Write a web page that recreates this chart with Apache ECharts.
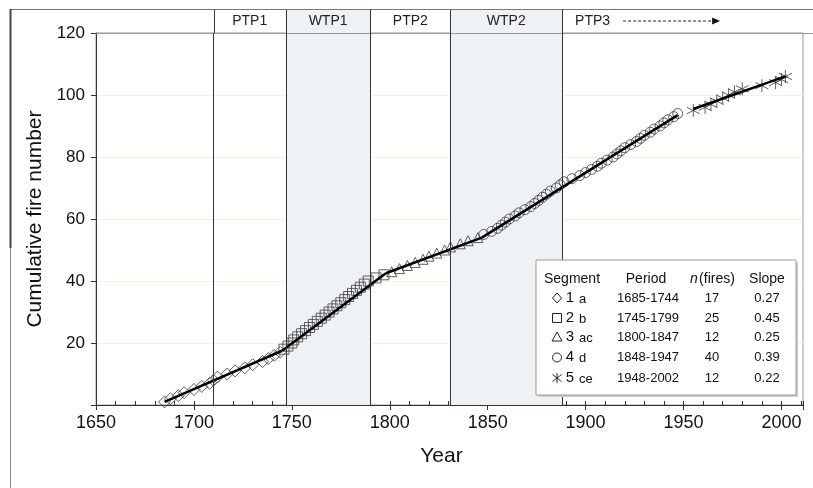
<!DOCTYPE html>
<html>
<head>
<meta charset="utf-8">
<script src="https://cdn.jsdelivr.net/npm/echarts@6/dist/echarts.min.js"></script>
<style>
html, body { margin: 0; padding: 0; background: #fff; }
#chart { width: 813px; height: 488px; }
</style>
</head>
<body>
<div id="chart"></div>
<script>
// fire years, one list per segment
var seg1Years = [1685, 1688, 1692, 1695, 1700, 1704, 1708, 1710, 1712, 1717, 1721, 1726, 1730, 1735, 1738, 1741, 1744];
var seg2Years = [1746, 1748, 1750, 1751, 1753, 1755, 1757, 1759, 1761, 1763, 1765, 1767, 1769, 1771, 1773, 1775, 1777, 1779, 1781, 1783, 1785, 1787, 1789, 1793, 1797];
var seg3Years = [1801, 1805, 1809, 1813, 1817, 1820, 1824, 1828, 1831, 1836, 1840, 1845];
var seg4Years = [1848, 1852, 1855, 1857, 1859, 1861, 1864, 1866, 1869, 1872, 1874, 1876, 1878, 1880, 1882, 1885, 1887, 1889, 1893, 1897,
	1900, 1903, 1906, 1908, 1911, 1914, 1916, 1918, 1920, 1923, 1926, 1928, 1930, 1933, 1935, 1938, 1940, 1942, 1945, 1947];
var seg5Years = [1955, 1961, 1964, 1967, 1970, 1973, 1976, 1980, 1990, 1997, 2000, 2002];

// fitted lines (end points)
var fit1 = [[1685, 1], [1745, 17.5]];
var fit2 = [[1745, 17.5], [1798, 42.5]];
var fit3 = [[1798, 42.5], [1847, 54]];
var fit4 = [[1847, 54], [1947, 93.5]];
var fit5 = [[1955, 95.5], [2002, 106]];

var boundaryYears = [1710, 1747, 1790, 1831, 1888];
var wetPeriods = [[1747, 1790], [1831, 1888]];
var periodNames = ['PTP1', 'WTP1', 'PTP2', 'WTP2'];

var tableSegments = ['1', '2', '3', '4', '5'];
var tableLetters = ['a', 'b', 'ac', 'd', 'ce'];
var tablePeriods = ['1685-1744', '1745-1799', '1800-1847', '1848-1947', '1948-2002'];
var tableFires = ['17', '25', '12', '40', '12'];
var tableSlopes = ['0.27', '0.45', '0.25', '0.39', '0.22'];

var FONT = '"Liberation Sans", Arial, sans-serif';
var starPath = 'path://M5,0L5,10M0.7,2.5L9.3,7.5M0.7,7.5L9.3,2.5';

// cumulative fire number = running count of fires
var count = 0;
var cumulate = function(years){
	var pts = [];
	for( var i = 0; i < years.length; i++ ){
		count++;
		pts.push( [years[i], count] );
	}
	return pts;
};
var seg1 = cumulate( seg1Years );
var seg2 = cumulate( seg2Years );
var seg3 = cumulate( seg3Years );
var seg4 = cumulate( seg4Years );
var seg5 = cumulate( seg5Years );

var scatter = function(data, symbol, size){
	return {
		type: 'scatter', data: data, symbol: symbol, symbolSize: size, z: 3,
		itemStyle: { color: 'rgba(255,255,255,0)', borderColor: '#3a3a3a', borderWidth: 1 }
	};
};
var fitLine = function(data){
	return {
		type: 'line', data: data, symbol: 'none', z: 4,
		lineStyle: { color: '#000', width: 2.5 }
	};
};

var chart = echarts.init( document.getElementById( 'chart' ) );

var option = {
	animation: false,
	grid: { left: 96, right: 10, top: 33, bottom: 83, show: true, borderColor: '#999', borderWidth: 1 },
	xAxis: [
		{
			type: 'value', min: 1650, max: 2011, interval: 50,
			name: 'Year', nameLocation: 'middle', nameGap: 41,
			nameTextStyle: { fontFamily: FONT, fontSize: 21, color: '#111', padding: [0, 16, 0, 0] },
			axisLine: { show: true, lineStyle: { color: '#333' } },
			axisTick: { show: false },
			minorTick: { show: false },
			splitLine: { show: false },
			axisLabel: {
				margin: 9, fontFamily: FONT, fontSize: 18, color: '#111',
				formatter: function(v){ return v % 50 === 0 ? String( v ) : ''; }
			}
		},
		{
			type: 'value', min: 1650, max: 2011, interval: 10, position: 'bottom',
			axisLine: { show: false },
			axisTick: { show: true, inside: true, length: 4, lineStyle: { color: '#333' } },
			axisLabel: { show: false },
			splitLine: { show: false }
		},
		{
			type: 'value', min: 1650, max: 2011, interval: 50, position: 'bottom',
			axisLine: { show: false },
			axisTick: { show: true, length: 5, lineStyle: { color: '#333' } },
			axisLabel: { show: false },
			splitLine: { show: false }
		}
	],
	yAxis: {
		type: 'value', min: 0, max: 120, interval: 20,
		name: 'Cumulative fire number', nameLocation: 'middle', nameGap: 43, nameRotate: 90,
		nameTextStyle: { fontFamily: FONT, fontSize: 21, color: '#111' },
		axisLine: { show: true, lineStyle: { color: '#333' } },
		axisTick: { show: true, length: 5, lineStyle: { color: '#333' } },
		splitLine: { show: true, lineStyle: { color: '#f3f3d8', width: 1 } },
		axisLabel: {
			margin: 11, fontFamily: FONT, fontSize: 17, color: '#111',
			formatter: function(v){ return v === 0 ? '' : String( v ); }
		}
	},
	series: [
		{
			type: 'line', data: [], z: 1,
			markArea: {
				silent: true,
				itemStyle: { color: '#eef2f5' },
				data: wetPeriods.map( function(p){ return [{ xAxis: p[0] }, { xAxis: p[1] }]; } )
			},
			markLine: {
				silent: true, symbol: 'none', label: { show: false },
				lineStyle: { color: '#333', width: 1, type: 'solid' },
				data: boundaryYears.map( function(y){ return { xAxis: y }; } )
			}
		},
		scatter( seg1, 'diamond', 12 ),
		scatter( seg2, 'rect', 10 ),
		scatter( seg3, 'triangle', 10 ),
		scatter( seg4, 'circle', 10 ),
		scatter( seg5, starPath, 13 ),
		fitLine( fit1 ),
		fitLine( fit2 ),
		fitLine( fit3 ),
		fitLine( fit4 ),
		fitLine( fit5 )
	]
};
chart.setOption( option );

// header row and table, placed with the axis scale
var px = function(year){ return chart.convertToPixel( { xAxisIndex: 0 }, year ); };
var topY = chart.convertToPixel( { yAxisIndex: 0 }, 120 );
var headTop = 9;
var headMid = (headTop + topY) / 2;
var g = [];

wetPeriods.forEach( function(p){
	g.push( { type: 'rect', shape: { x: px( p[0] ), y: headTop, width: px( p[1] ) - px( p[0] ), height: topY - headTop },
		style: { fill: '#eef2f5' }, z: 1 } );
} );
boundaryYears.forEach( function(y){
	var x = Math.round( px( y ) ) + 0.5;
	g.push( { type: 'line', shape: { x1: x, y1: headTop, x2: x, y2: topY }, style: { stroke: '#333', lineWidth: 1 }, z: 2 } );
} );
for( var i = 0; i < periodNames.length; i++ ){
	g.push( { type: 'text', x: (px( boundaryYears[i] ) + px( boundaryYears[i + 1] )) / 2, y: headMid,
		style: { text: periodNames[i], font: '14px ' + FONT, fill: '#222', align: 'center', verticalAlign: 'middle' }, z: 3 } );
}
var p3x = px( boundaryYears[4] ) + 13;
g.push( { type: 'text', x: p3x, y: headMid,
	style: { text: 'PTP3', font: '14px ' + FONT, fill: '#222', align: 'left', verticalAlign: 'middle' }, z: 3 } );
g.push( { type: 'line', shape: { x1: p3x + 48, y1: headMid, x2: p3x + 138, y2: headMid },
	style: { stroke: '#222', lineWidth: 1, lineDash: [3, 2] }, z: 3 } );
g.push( { type: 'polygon', shape: { points: [[p3x + 137, headMid - 3.5], [p3x + 145, headMid], [p3x + 137, headMid + 3.5]] },
	style: { fill: '#111' }, z: 3 } );

// outer frame pieces
g.push( { type: 'line', shape: { x1: 10, y1: headTop + 0.5, x2: 813, y2: headTop + 0.5 }, style: { stroke: '#777', lineWidth: 1 }, z: 2 } );
g.push( { type: 'line', shape: { x1: 10.5, y1: headTop, x2: 10.5, y2: 488 }, style: { stroke: '#888', lineWidth: 1 }, z: 2 } );
g.push( { type: 'line', shape: { x1: 10.5, y1: headTop, x2: 10.5, y2: 248 }, style: { stroke: '#444', lineWidth: 2 }, z: 2 } );
g.push( { type: 'line', shape: { x1: 96, y1: topY + 0.5, x2: 813, y2: topY + 0.5 }, style: { stroke: '#999', lineWidth: 1 }, z: 2 } );

// table box
var bx = 536, by = 260, bw = 260, bh = 135;
g.push( { type: 'rect', shape: { x: bx + 2, y: by + 2, width: bw, height: bh }, style: { fill: '#ccc' }, z: 10 } );
g.push( { type: 'rect', shape: { x: bx, y: by, width: bw, height: bh }, style: { fill: '#fff', stroke: '#999', lineWidth: 1 }, z: 11 } );

var txt = function(x, y, s, size, align, extra){
	g.push( { type: 'text', x: x, y: y, z: 12,
		style: { text: s, font: (extra || '') + size + 'px ' + FONT, fill: '#111', align: align, verticalAlign: 'middle' } } );
};
var hy = 279;
txt( 572, hy, 'Segment', 14, 'center' );
txt( 646, hy, 'Period', 14, 'center' );
txt( 694, hy, 'n', 14, 'center', 'italic ' );
txt( 717, hy, '(fires)', 14, 'center' );
txt( 767, hy, 'Slope', 14, 'center' );

var rowY = [298, 318, 337, 357, 378];
for( var r = 0; r < rowY.length; r++ ){
	var ry = rowY[r];
	txt( 570, ry, tableSegments[r], 15, 'center' );
	txt( 579, ry + 1, tableLetters[r], 13, 'left' );
	txt( 648, ry, tablePeriods[r], 13, 'center' );
	txt( 712, ry, tableFires[r], 13, 'center' );
	txt( 767, ry, tableSlopes[r], 13, 'center' );
}
var sx = 557;
var symStyle = { fill: 'none', stroke: '#222', lineWidth: 1 };
g.push( { type: 'polygon', z: 12, shape: { points: [[sx, rowY[0] - 5], [sx + 4.5, rowY[0]], [sx, rowY[0] + 5], [sx - 4.5, rowY[0]]] }, style: symStyle } );
g.push( { type: 'rect', z: 12, shape: { x: sx - 4.5, y: rowY[1] - 4.5, width: 9, height: 9 }, style: symStyle } );
g.push( { type: 'polygon', z: 12, shape: { points: [[sx, rowY[2] - 5], [sx + 5, rowY[2] + 4], [sx - 5, rowY[2] + 4]] }, style: symStyle } );
g.push( { type: 'circle', z: 12, shape: { cx: sx, cy: rowY[3] + 0.5, r: 4.5 }, style: symStyle } );
var sy = rowY[4];
g.push( { type: 'line', z: 12, shape: { x1: sx, y1: sy - 5, x2: sx, y2: sy + 5 }, style: symStyle } );
g.push( { type: 'line', z: 12, shape: { x1: sx - 4.5, y1: sy - 3.5, x2: sx + 4.5, y2: sy + 3.5 }, style: symStyle } );
g.push( { type: 'line', z: 12, shape: { x1: sx - 4.5, y1: sy + 3.5, x2: sx + 4.5, y2: sy - 3.5 }, style: symStyle } );

chart.setOption( { graphic: g } );
</script>
</body>
</html>
